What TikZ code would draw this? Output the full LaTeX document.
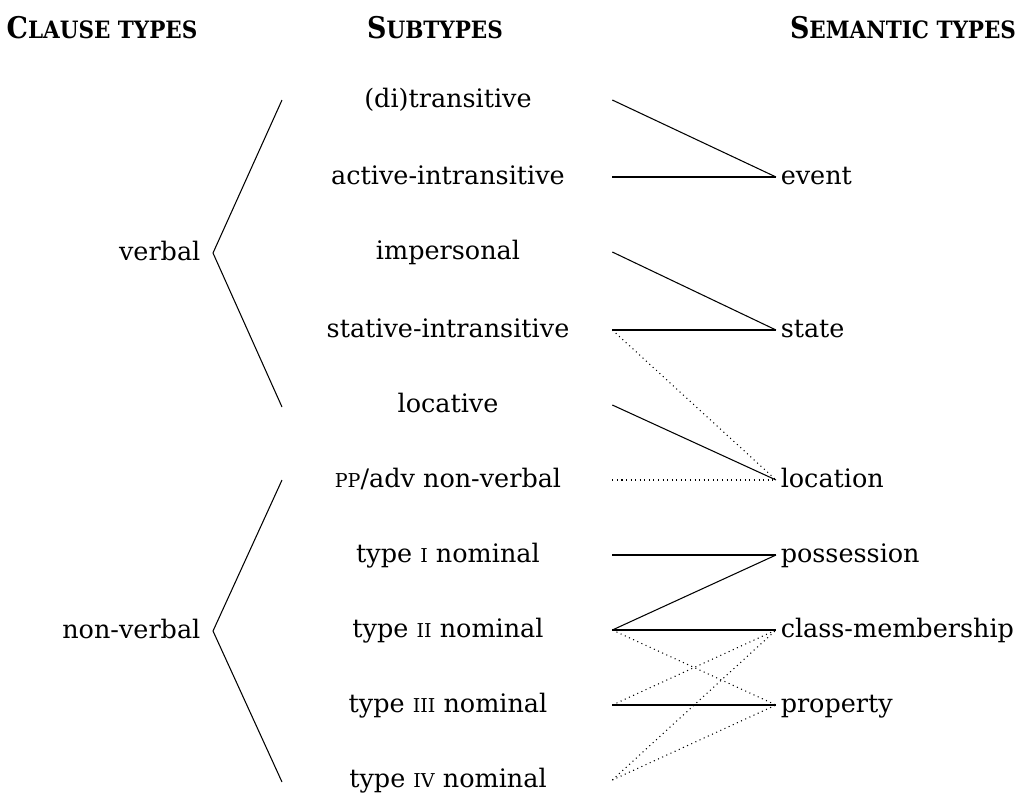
\documentclass[tikz,border=0pt]{standalone}
\usepackage{fontspec}
\setmainfont{DejaVu Serif}
\newfontfamily\scfont{DejaVu Serif}[Scale=0.75]
\newfontfamily\hdfont{DejaVu Serif Condensed}
\newfontfamily\hdsmall{DejaVu Serif Condensed}[Scale=0.8]
\newcommand\smc[1]{{\scfont #1}}
\newcommand\hdr[2]{{\bfseries\hdfont #1\hdsmall #2}}

\tikzset{
  lbl/.style={inner sep=0pt, text height=1.6ex, text depth=0pt, font=\fontsize{14.5pt}{17pt}\selectfont},
  subtype/.style={lbl, minimum width=6.56cm},
  semtype/.style={lbl, anchor=west, inner xsep=2.5pt},
  clausetype/.style={lbl, anchor=east, inner xsep=7pt},
  header/.style={inner sep=0pt, font=\fontsize{17pt}{20pt}\selectfont},
  link/.style={line width=0.6pt},
  dotlink/.style={line width=0.6pt, dotted},
}

\begin{document}
\begin{tikzpicture}[x=0.02cm, y=-0.02cm]
    \useasboundingbox (0,0) rectangle (1017,795);

    % Column headers
    \node[header] (hclause) at (102,28) {\hdr{C}{LAUSE TYPES}};
    \node[header] (hsub) at (435,28) {\hdr{S}{UBTYPES}};
    \node[header] (hsem) at (903,28) {\hdr{S}{EMANTIC TYPES}};

    % Subtypes (middle column)
    \foreach \name/\y/\txt in {ditr/100/{(di)transitive}, actintr/177/{active-intransitive},
        impers/252/{impersonal}, statintr/330/{stative-intransitive}, locat/405/{locative},
        ppadv/480/{\smc{PP}/adv non-verbal}, tone/555/{type \smc{I} nominal},
        ttwo/630/{type \smc{II} nominal}, tthree/705/{type \smc{III} nominal},
        tfour/780/{type \smc{IV} nominal}}
        \node[subtype] (\name) at (448,\y) {\txt};

    % Semantic types (right column)
    \foreach \name/\y/\txt in {event/177/event, state/330/state, location/480/location,
        possession/555/possession, classmem/630/class-membership, property/705/property}
        \node[semtype] (\name) at (776,\y) {\txt};

    % Clause types with brackets
    \node[clausetype] (verbal) at (213,253) {verbal};
    \node[clausetype] (nonverbal) at (213,631) {non-verbal};
    \coordinate (vtop) at (282,100);
    \coordinate (vbot) at (282,407);
    \coordinate (ntop) at (282,480);
    \coordinate (nbot) at (282,782);
    \draw[link] (vtop) -- (verbal.east) -- (vbot);
    \draw[link] (ntop) -- (nonverbal.east) -- (nbot);

    % Links to semantic types
    \foreach \a/\b in {ditr/event, actintr/event, impers/state, statintr/state,
        locat/location, tone/possession, ttwo/possession, ttwo/classmem, tthree/property}
        \draw[link] (\a.east) -- (\b.west);
    \foreach \a/\b in {statintr/location, ppadv/location, ttwo/property,
        tthree/classmem, tfour/classmem, tfour/property}
        \draw[dotlink] (\a.east) -- (\b.west);
\end{tikzpicture}
\end{document}
